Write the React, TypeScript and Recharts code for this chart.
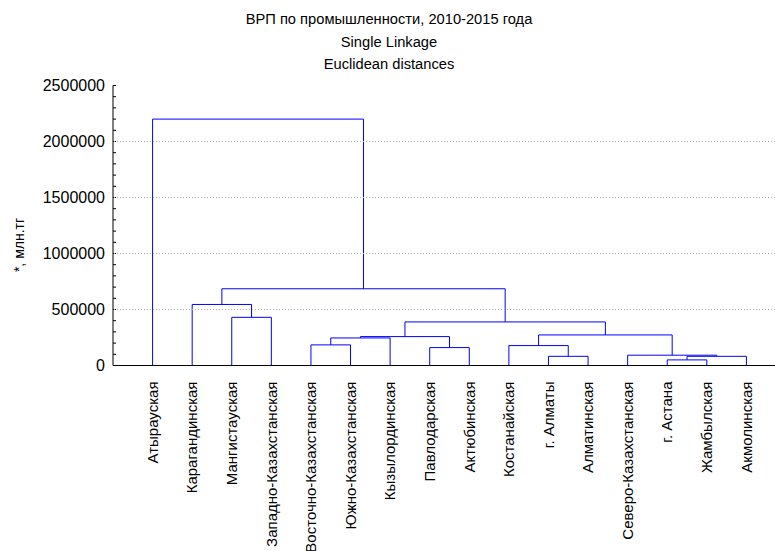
import { ComposedChart, Line, XAxis, YAxis } from "recharts";

const TITLE_LINES = ["ВРП по промышленности, 2010-2015 года", "Single Linkage", "Euclidean distances"];
const Y_LABEL = "*, млн.тг";

// leaf order as drawn on the x axis
const LEAVES = [
  "Атырауская",
  "Карагандинская",
  "Мангистауская",
  "Западно-Казахстанская",
  "Восточно-Казахстанская",
  "Южно-Казахстанская",
  "Кызылординская",
  "Павлодарская",
  "Актюбинская",
  "Костанайская",
  "г. Алматы",
  "Алматинская",
  "Северо-Казахстанская",
  "г. Астана",
  "Жамбылская",
  "Акмолинская"
];

// merges: node 16 + i joins MERGE_LEFT[i] and MERGE_RIGHT[i] at MERGE_HEIGHT[i]
const MERGE_LEFT = [13, 16, 12, 10, 9, 20, 4, 22, 7, 23, 25, 2, 1, 28, 0];
const MERGE_RIGHT = [14, 15, 17, 11, 19, 18, 5, 6, 8, 24, 21, 3, 27, 26, 29];
const MERGE_HEIGHT = [
  50000, 82000, 92000, 82000, 178000, 273000, 184000, 246000, 160000, 258000, 389000, 430000,
  545000, 685000, 2200000
];

const Y_TICKS = Array.from({ length: 26 }, (_, i) => i * 100000);
const Y_MAJOR = [0, 500000, 1000000, 1500000, 2000000, 2500000];
const GRID_VALUES = [500000, 1000000, 1500000, 2000000];
const LEAF_TICKS = LEAVES.map((_, i) => i + 1);
const X_DOMAIN = [0, 17];

const FONT = "'Liberation Sans', Arial, sans-serif";
const CHART_W = 786;
const AXIS_W = 113;

function buildLinks() {
  const pos: number[] = LEAVES.map((_, i) => i + 1);
  const height: number[] = LEAVES.map(() => 0);
  return MERGE_HEIGHT.map((h, i) => {
    const l = MERGE_LEFT[i];
    const r = MERGE_RIGHT[i];
    const points = [
      { x: pos[l], y: height[l] },
      { x: pos[l], y: h },
      { x: pos[r], y: h },
      { x: pos[r], y: height[r] }
    ];
    pos.push((pos[l] + pos[r]) / 2);
    height.push(h);
    return points;
  });
}

function LeafTick(props: any) {
  const { x, y, payload } = props;
  return (
    <text
      transform={`translate(${x},${y + 8}) rotate(-90)`}
      textAnchor="end"
      dy="0.35em"
      fontSize={15}
      fontFamily={FONT}
      fill="#000"
    >
      {LEAVES[payload.value - 1]}
    </text>
  );
}

// y tick: label for major values, plus the dotted grid line across the plot
function ValueTick(props: any) {
  const { x, y, payload } = props;
  const v = payload.value;
  if (!Y_MAJOR.includes(v)) return <g />;
  const gy = Math.floor(y) + 0.5;
  return (
    <g>
      {GRID_VALUES.includes(v) ? (
        <line
          x1={AXIS_W + 1}
          x2={CHART_W}
          y1={gy}
          y2={gy}
          stroke="#b4b4b4"
          strokeWidth={1}
          strokeDasharray="1 2"
          shapeRendering="crispEdges"
        />
      ) : null}
      <text
        x={x}
        y={y}
        dy="0.35em"
        textAnchor="end"
        fontSize={16}
        fontFamily={FONT}
        fill="#000"
      >
        {String(v)}
      </text>
    </g>
  );
}

export default function App() {
  const links = buildLinks();
  return (
    <div
      style={{
        position: "absolute",
        left: 0,
        top: 0,
        width: 775,
        height: 551,
        overflow: "hidden",
        background: "#fff",
        fontFamily: FONT
      }}
    >
      {TITLE_LINES.map((t, i) => (
        <div
          key={t}
          style={{
            position: "absolute",
            left: 0,
            width: 778,
            top: 10 + i * 22.5,
            textAlign: "center",
            fontSize: 14.7,
            lineHeight: "18px",
            color: "#000"
          }}
        >
          {t}
        </div>
      ))}
      <div
        style={{
          position: "absolute",
          left: 19,
          top: 245,
          transform: "translate(-50%, -50%) rotate(-90deg)",
          fontSize: 14,
          whiteSpace: "nowrap",
          color: "#000"
        }}
      >
        {Y_LABEL}
      </div>
      <ComposedChart
        width={CHART_W}
        height={551}
        margin={{ top: 85.5, right: 0, bottom: 0, left: 0 }}
      >
        <XAxis
          xAxisId="bottom"
          type="number"
          dataKey="x"
          domain={X_DOMAIN}
          ticks={LEAF_TICKS}
          interval={0}
          height={185.5}
          stroke="#000"
          tickLine={false}
          tick={<LeafTick />}
          allowDataOverflow
        />
        <XAxis
          xAxisId="top"
          orientation="top"
          type="number"
          domain={X_DOMAIN}
          ticks={LEAF_TICKS}
          interval={0}
          height={0}
          stroke="#000"
          tickSize={-3}
          tick={false}
        />
        <YAxis
          type="number"
          domain={[0, 2500000]}
          ticks={Y_TICKS}
          interval={0}
          width={AXIS_W}
          stroke="#000"
          tickSize={-3}
          tickMargin={11}
          tick={<ValueTick />}
        />
        {links.map((pts, i) => (
          <Line
            key={i}
            xAxisId="bottom"
            data={pts}
            dataKey="y"
            type="linear"
            stroke="#0000ff"
            strokeWidth={1}
            dot={false}
            activeDot={false}
            isAnimationActive={false}
          />
        ))}
      </ComposedChart>
    </div>
  );
}
